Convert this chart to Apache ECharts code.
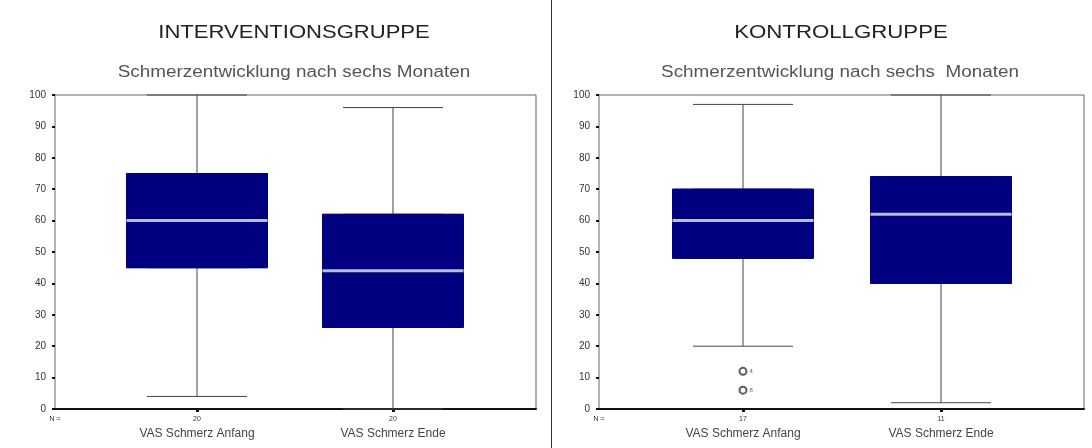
<!DOCTYPE html>
<html>
<head>
	<meta charset="utf-8" />
	<title>Schmerzentwicklung</title>
	<script src="https://cdn.jsdelivr.net/npm/echarts@6/dist/echarts.min.js"></script>
	<style>
		body { margin: 0; background: #fff; }
		#chart { width: 1092px; height: 448px; }
	</style>
</head>
<body>
<div id="chart"></div>
<script type="text/javascript">
	var categories = ['VAS Schmerz Anfang', 'VAS Schmerz Ende'];
	var interventionN = ['20', '20'];
	var kontrollN = ['17', '11'];
	// [min, Q1, median, Q3, max]
	var interventionStats = [[4, 45, 60, 75, 100], [0, 26, 44, 62, 96]];
	var kontrollStats = [[20, 48, 60, 70, 97], [2, 40, 62, 74, 100]];
	var kontrollOutliers = [[0, 12], [0, 6]];
	var kontrollOutlierCases = ['4', '8'];
	var yTicks = [0, 10, 20, 30, 40, 50, 60, 70, 80, 90, 100];

	var navy = '#000080';
	var boxW = 141, capW = 100;
	var xRange = [[-0.7245, 1.7296], [-0.7273, 1.7222]];

	function xAxisFor(grid, nLabels) {
		var min = xRange[grid][0], max = xRange[grid][1];
		return {
			type: 'value', gridIndex: grid, min: min, max: max,
			axisLine: { lineStyle: { color: '#111', width: 2 } },
			axisTick: { customValues: [0, 1], length: 3, lineStyle: { width: 3, color: '#111' } },
			axisLabel: {
				customValues: [min, 0, 1],
				margin: 4,
				formatter: function (v) {
					if (Math.abs(v - min) < 1e-6) return '{n|N =}';
					var i = Math.round(v);
					return '{n|' + nLabels[i] + '}\n{c|' + categories[i] + '}';
				},
				rich: {
					n: { fontSize: 7, color: '#333', lineHeight: 13, fontFamily: 'Liberation Sans' },
					c: { fontSize: 12, color: '#444', lineHeight: 15, fontFamily: 'Liberation Sans' }
				}
			},
			splitLine: { show: false }
		};
	}

	// unsichtbare Achse, damit die zwei Boxplot-Serien nicht nebeneinander versetzt werden
	function hiddenXAxis(grid) {
		return { type: 'value', gridIndex: grid, min: xRange[grid][0], max: xRange[grid][1], show: false };
	}

	function yAxisFor(grid) {
		return {
			type: 'value', gridIndex: grid, min: yTicks[0], max: yTicks[yTicks.length - 1], interval: 10,
			axisLine: { show: false, onZero: false },
			axisTick: { length: 3, lineStyle: { width: 2, color: '#111' } },
			axisLabel: { fontSize: 10, color: '#333', margin: 9, fontFamily: 'Liberation Sans' },
			splitLine: { show: false }
		};
	}

	function panelSeries(grid, stats) {
		return [
			{ // Whisker
				type: 'boxplot', xAxisIndex: grid, yAxisIndex: grid,
				boxWidth: [capW, capW],
				data: stats.map(function (s, i) { return [i].concat(s); }),
				itemStyle: { color: navy, borderColor: '#444', borderWidth: 1 },
				emphasis: { disabled: true }, silent: true
			},
			{ // Box
				type: 'boxplot', xAxisIndex: grid + 2, yAxisIndex: grid,
				boxWidth: [boxW, boxW],
				data: stats.map(function (s, i) { return [i, s[1], s[1], s[2], s[3], s[3]]; }),
				itemStyle: { color: navy, borderColor: navy, borderWidth: 1 },
				emphasis: { disabled: true }, silent: true
			},
			{ // Median
				type: 'scatter', xAxisIndex: grid, yAxisIndex: grid,
				symbol: 'rect', symbolSize: [boxW, 3],
				data: stats.map(function (s, i) { return [i, s[2]]; }),
				itemStyle: { color: '#b9bcd9', opacity: 1 },
				emphasis: { disabled: true }, silent: true, z: 5
			}
		];
	}

	var series = panelSeries(0, interventionStats).concat(panelSeries(1, kontrollStats));
	series.push({
		type: 'scatter', xAxisIndex: 1, yAxisIndex: 1,
		symbol: 'emptyCircle', symbolSize: 7,
		data: kontrollOutliers,
		itemStyle: { color: '#333', borderWidth: 1 },
		label: {
			show: true, position: 'right', distance: 2, fontSize: 6, color: '#333',
			formatter: function (p) { return kontrollOutlierCases[p.dataIndex]; }
		},
		emphasis: { disabled: true }, silent: true, z: 6
	});

	function headText(text, x, y, size, color, sx) {
		return {
			type: 'text', x: x, y: y, scaleX: sx, silent: true,
			style: { text: text, fontSize: size, fontFamily: 'Liberation Sans', fill: color,
				align: 'center', verticalAlign: 'middle' }
		};
	}

	var myChart = echarts.init(document.getElementById('chart'), null, { renderer: 'canvas' });
	var option = {
		animation: false,
		backgroundColor: '#fff',
		grid: [
			{ left: 55, top: 95, width: 481, height: 314, show: true, borderColor: '#666', borderWidth: 1, backgroundColor: '#fff' },
			{ left: 599, top: 95, width: 485, height: 314, show: true, borderColor: '#666', borderWidth: 1, backgroundColor: '#fff' }
		],
		xAxis: [
			xAxisFor(0, interventionN),
			xAxisFor(1, kontrollN),
			hiddenXAxis(0),
			hiddenXAxis(1)
		],
		yAxis: [yAxisFor(0), yAxisFor(1)],
		graphic: [
			headText('INTERVENTIONSGRUPPE', 294, 33, 19, '#222', 1.16),
			headText('Schmerzentwicklung nach sechs Monaten', 294, 73, 16, '#555', 1.18),
			headText('KONTROLLGRUPPE', 841, 33, 19, '#222', 1.17),
			headText('Schmerzentwicklung nach sechs  Monaten', 840, 73, 16, '#555', 1.18),
			{ type: 'line', shape: { x1: 551.5, y1: 0, x2: 551.5, y2: 448 }, style: { stroke: '#333', lineWidth: 1 } }
		],
		series: series
	};
	myChart.setOption(option);
</script>
</body>
</html>
